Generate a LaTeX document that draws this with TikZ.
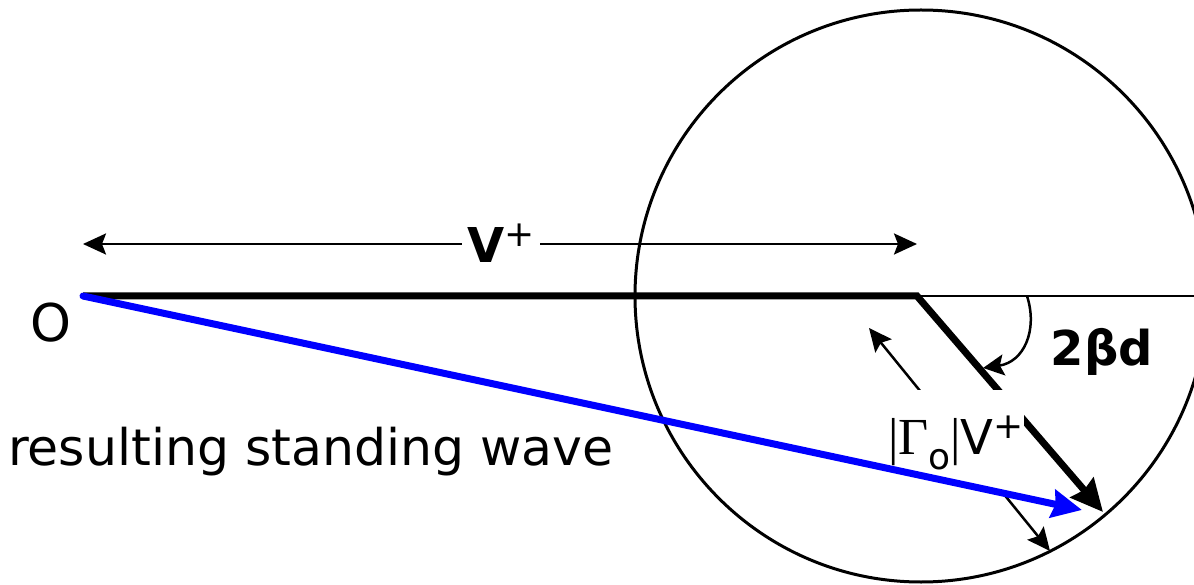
\documentclass[tikz,border=0pt]{standalone}
\usepackage{fontspec}
\setmainfont{DejaVu Sans}
\newfontfamily\serifx{Liberation Serif}
\usetikzlibrary{arrows.meta}
\begin{document}
\begin{tikzpicture}[x=1pt,y=-1pt,
  thinline/.style={line width=2.5pt},
  dimarrow/.style={thinline, {Stealth[length=23pt,width=21pt,inset=4pt]}-{Stealth[length=23pt,width=21pt,inset=4pt]}},
  lbl/.style={font=\fontsize{48}{56}\selectfont, inner sep=0pt},
  whitelbl/.style={lbl, fill=white}]
\useasboundingbox (0,0) rectangle (1194,585);
\clip (0,0) rectangle (1194,585);
% points
\coordinate (O) at (83,296);
\coordinate (C) at (917,296);
\coordinate (R) at (1194,296);
\coordinate (T) at (1103,512);
\coordinate (B) at (1082,510);
\coordinate (A1) at (83,244);
\coordinate (A2) at (917,244);
\coordinate (D1) at (869,328);
\coordinate (D2) at (1050,551);
\coordinate (S1) at (1027,296);
\coordinate (E1) at (983,368);
% circle
\node[circle, draw, line width=3pt, minimum size=572pt, inner sep=0pt] (circ) at (921,296) {};
% thin horizontal reference
\draw[line width=2pt] (C) -- (R);
% top dimension arrow
\draw[dimarrow] (A1) -- (A2);
\node[whitelbl, inner xsep=5pt] (vp) at (501,243) {\textbf{V}\raisebox{0.34em}{\fontsize{36}{36}\selectfont +}};
% thick incident line and reflected vector
\draw[line width=7pt, line join=miter, -{Stealth[length=32pt,width=30pt,inset=3pt]}] (O) -- (C) -- (T);
% reflected magnitude dimension arrow
\draw[dimarrow] (D1) -- (D2);
% angle arrow
\draw[thinline, -{Stealth[length=21pt,width=21pt,inset=4pt]}] (S1) .. controls (1038,330) and (1024,362) .. (E1);
% label box
\node[whitelbl, minimum width=132pt, minimum height=107pt] (gv) at (956,443)
  {{\serifx\fontsize{52}{56}\selectfont |Γ}\raisebox{-0.3em}{\fontsize{36}{36}\selectfont o}{\serifx\fontsize{52}{56}\selectfont |}V\raisebox{0.34em}{\fontsize{36}{36}\selectfont +}};
% resulting vector
\draw[blue, line width=7pt, line cap=round, -{Stealth[length=30pt,width=28pt,inset=3pt]}] (O) -- (B);
% labels
\node[lbl, font=\fontsize{52}{56}\selectfont] (o) at (51,323) {O};
\node[lbl, font=\fontsize{48}{56}\selectfont\bfseries] (bd) at (1102,352) {2βd};
\node[lbl, anchor=base west, font=\fontsize{50.5}{56}\selectfont] (rsw) at (8,465) {resulting standing wave};
\end{tikzpicture}
\end{document}
